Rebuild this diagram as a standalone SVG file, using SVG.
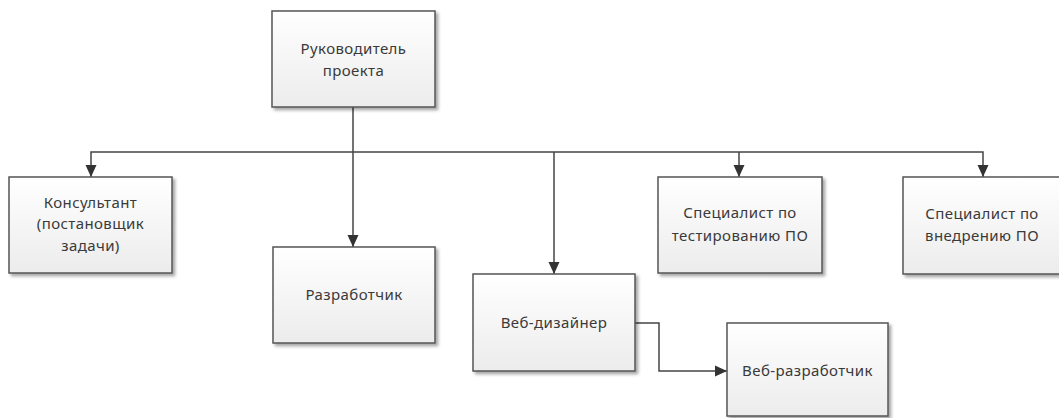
<svg xmlns="http://www.w3.org/2000/svg" width="1059" height="418" viewBox="0 0 1059 418">
<defs>
<linearGradient id="g" x1="0" y1="0" x2="0" y2="1">
<stop offset="0" stop-color="#ffffff"/>
<stop offset="1" stop-color="#ececec"/>
</linearGradient>
<filter id="sh" x="-10%" y="-10%" width="130%" height="130%">
<feDropShadow dx="2.5" dy="2.5" stdDeviation="1.5" flood-color="#000" flood-opacity="0.35"/>
</filter>
<marker id="arr" markerUnits="userSpaceOnUse" markerWidth="12" markerHeight="12" viewBox="0 0 12 12" refX="12" refY="6" orient="auto">
<path d="M0,0.5 L12,6 L0,11.5 Z" fill="#333"/>
</marker>
</defs>
<style>
.box{fill:url(#g);stroke:#555;stroke-width:1.5;filter:url(#sh)}
.t{font-family:"Noto Sans","DejaVu Sans",sans-serif;font-size:15px;letter-spacing:0.4px;fill:#3a3a3a;text-anchor:middle}
.c{fill:none;stroke:#444;stroke-width:1.5}
</style>
<rect width="1059" height="418" fill="#fff"/>
<g id="connectors">
<path class="c" d="M353,107 V247" marker-end="url(#arr)"/>
<path class="c" d="M353,152 H91 V177" marker-end="url(#arr)"/>
<path class="c" d="M353,152 H983 V177" marker-end="url(#arr)"/>
<path class="c" d="M554,152 V274" marker-end="url(#arr)"/>
<path class="c" d="M739,152 V177" marker-end="url(#arr)"/>
<path class="c" d="M635,323 H659 V371 H727" marker-end="url(#arr)"/>
</g>
<g id="n-head">
<rect class="box" x="272" y="11" width="163" height="96"/>
<text class="t" x="353.5" y="54">Руководитель</text>
<text class="t" x="353.5" y="76">проекта</text>
</g>
<g id="n-consultant">
<rect class="box" x="9" y="177" width="163" height="96"/>
<text class="t" x="90.5" y="208">Консультант</text>
<text class="t" x="90.5" y="229">(постановщик</text>
<text class="t" x="90.5" y="251">задачи)</text>
</g>
<g id="n-dev">
<rect class="box" x="273" y="247" width="162" height="96"/>
<text class="t" x="354" y="300">Разработчик</text>
</g>
<g id="n-webdesign">
<rect class="box" x="473" y="274" width="162" height="97"/>
<text class="t" x="554" y="328">Веб-дизайнер</text>
</g>
<g id="n-webdev">
<rect class="box" x="727" y="323" width="161" height="93"/>
<text class="t" x="807.5" y="376">Веб-разработчик</text>
</g>
<g id="n-test">
<rect class="box" x="658" y="177" width="164" height="96"/>
<text class="t" x="740" y="218">Специалист по</text>
<text class="t" x="740" y="241">тестированию ПО</text>
</g>
<g id="n-impl">
<rect class="box" x="903" y="177" width="163" height="97"/>
<text class="t" x="982" y="219">Специалист по</text>
<text class="t" x="982" y="241">внедрению ПО</text>
</g>
</svg>
